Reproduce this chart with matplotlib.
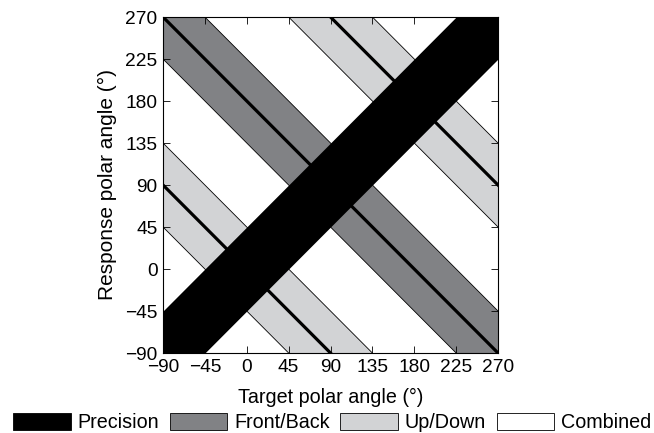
import numpy as np
import matplotlib.pyplot as plt
from matplotlib.patches import Patch

plt.rcParams['font.family'] = ['Liberation Sans', 'DejaVu Sans']
plt.rcParams['axes.unicode_minus'] = True

# angle range and ticks (degrees)
angle_min, angle_max = -90, 270
tick_values = [-90, -45, 0, 45, 90, 135, 180, 225, 270]

# confusion bands: response = sign * target + offset, half width 45 deg
half_width = 45
precision_offsets = [0]          # response = target
front_back_offsets = [180]       # response = 180 - target
up_down_offsets = [0, 360]       # response = -target, 360 - target

legend_labels = ['Precision', 'Front/Back', 'Up/Down', 'Combined']

dark_gray = '#818285'
light_gray = '#d2d3d5'

fig = plt.figure(figsize=(6.54, 4.33), dpi=100)
ax = fig.add_axes([163 / 654, 1 - 353 / 433, 335 / 654, 336 / 433])

x = np.linspace(angle_min, angle_max, 400)


def anti_band(offset, color):
    center = offset - x
    ax.fill_between(x, center - half_width, center + half_width,
                    color=color, lw=0, zorder=1)
    ax.plot(x, center - half_width, color='k', lw=0.6, zorder=2)
    ax.plot(x, center + half_width, color='k', lw=0.6, zorder=2)
    ax.plot(x, center, color='k', lw=2.3, zorder=2)


for off in front_back_offsets:
    anti_band(off, dark_gray)
for off in up_down_offsets:
    anti_band(off, light_gray)

for off in precision_offsets:
    ax.fill_between(x, x + off - half_width, x + off + half_width,
                    color='k', lw=0, zorder=3)

ax.set_xlim(angle_min, angle_max)
ax.set_ylim(angle_min, angle_max)
ax.set_xticks(tick_values)
ax.set_yticks(tick_values)
ax.tick_params(direction='in', length=5, width=0.6, top=True, right=True,
               labelsize=13.8, pad=4)
for s in ax.spines.values():
    s.set_linewidth(0.8)
ax.set_xlabel('Target polar angle (°)', fontsize=14.2, labelpad=9)
ax.set_ylabel('Response polar angle (°)', fontsize=15, labelpad=6)

handles = [Patch(facecolor=c, edgecolor='k', linewidth=0.6)
           for c in ['k', dark_gray, light_gray, 'white']]
fig.legend(handles, legend_labels, loc='lower center', ncol=4,
           bbox_to_anchor=(0.508, -0.025), frameon=False, fontsize=14.2,
           handlelength=2.9, handleheight=0.95, handletextpad=0.35,
           columnspacing=0.55, borderaxespad=0.2)

fig.savefig('out.png', dpi=100)
